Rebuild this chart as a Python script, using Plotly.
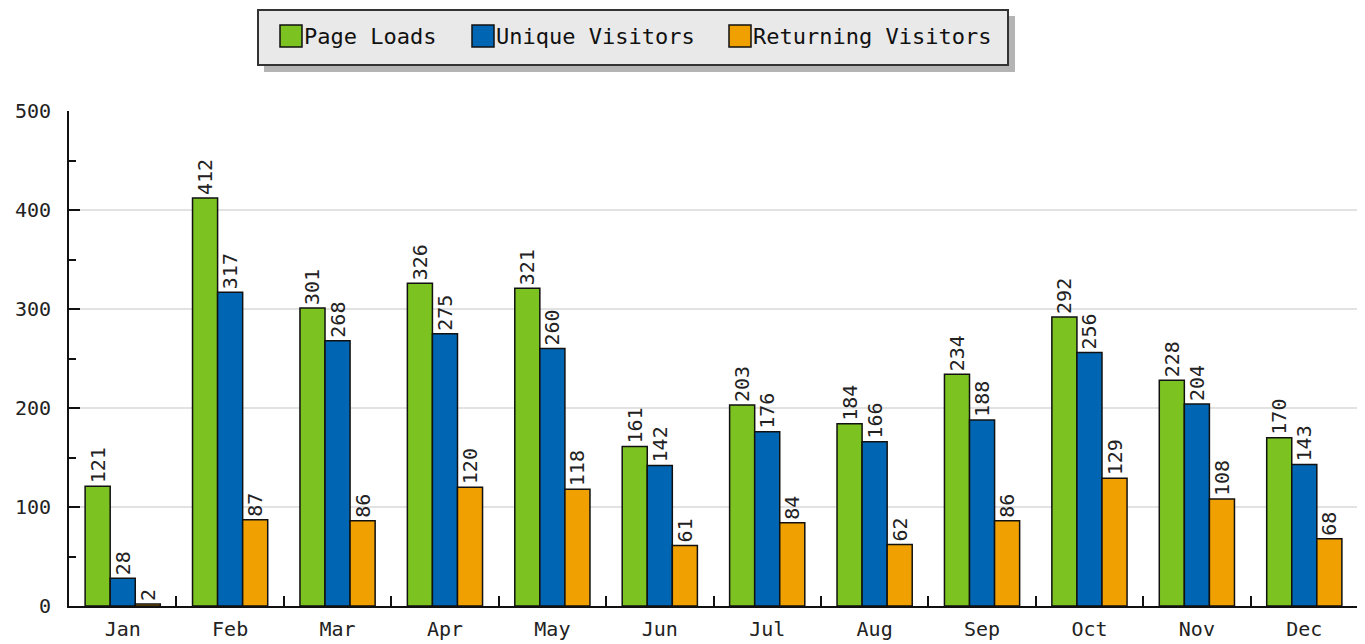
import plotly.graph_objects as go

months = ["Jan", "Feb", "Mar", "Apr", "May", "Jun", "Jul", "Aug", "Sep", "Oct", "Nov", "Dec"]
page_loads = [121, 412, 301, 326, 321, 161, 203, 184, 234, 292, 228, 170]
unique_visitors = [28, 317, 268, 275, 260, 142, 176, 166, 188, 256, 204, 143]
returning_visitors = [2, 87, 86, 120, 118, 61, 84, 62, 86, 129, 108, 68]
series_names = ["Page Loads", "Unique Visitors", "Returning Visitors"]
series_colors = ["#7cc220", "#0066b3", "#f0a000"]
y_ticks = [0, 100, 200, 300, 400, 500]

# page body has an 8px margin; figure is drawn from (8, 8) of the window
OFF = 8
W, H = 1365 - OFF, 644 - OFF
L, R, T, B = 69 - OFF, 7, 111 - OFF, 38
PW, PH = W - L - R, H - T - B

def px_x(x):
    # window pixel x -> paper coordinate
    return (x - OFF - L) / PW

def px_y(y):
    # window pixel y -> paper coordinate
    return (H - B - (y - OFF)) / PH

MONO = "DejaVu Sans Mono"

fig = go.Figure()
for name, vals, col in zip(series_names, [page_loads, unique_visitors, returning_visitors], series_colors):
    fig.add_trace(go.Bar(
        x=months, y=vals, name=name, showlegend=False,
        marker=dict(color=col, line=dict(color="#111111", width=1.5)),
        texttemplate="%{y}", textposition="outside", textangle=-90,
        textfont=dict(family=MONO, size=20, color="#222222"),
        constraintext="none", cliponaxis=False,
    ))

# legend box with shadow
fig.add_shape(type="rect", xref="paper", yref="paper",
              x0=px_x(264), x1=px_x(1015), y0=px_y(72), y1=px_y(16),
              fillcolor="#b4b4b4", line=dict(width=0), layer="below")
fig.add_shape(type="rect", xref="paper", yref="paper",
              x0=px_x(258), x1=px_x(1008), y0=px_y(65), y1=px_y(10),
              fillcolor="#e9e9e9", line=dict(color="#333333", width=2), layer="below")

# legend entries: swatch + label
legend_swatch_x = [280, 472, 729]
for name, col, sx in zip(series_names, series_colors, legend_swatch_x):
    fig.add_shape(type="rect", xref="paper", yref="paper",
                  x0=px_x(sx), x1=px_x(sx + 22), y0=px_y(47), y1=px_y(25),
                  fillcolor=col, line=dict(color="#111111", width=1.5))
    fig.add_annotation(xref="paper", yref="paper", x=px_x(sx + 23), y=px_y(37),
                       xanchor="left", yanchor="middle", text=name, showarrow=False,
                       font=dict(family=MONO, size=22, color="#111111"), borderpad=0)

fig.update_layout(
    width=W, height=H,
    margin=dict(l=L, r=R, t=T, b=B, autoexpand=False),
    paper_bgcolor="white", plot_bgcolor="white",
    barmode="group", bargap=0.30, bargroupgap=0,
    font=dict(family=MONO, size=20, color="#222222"),
    showlegend=False,
    xaxis=dict(
        automargin=False,
        showline=True, linecolor="#111111", linewidth=2,
        ticks="inside", ticklen=10, tickwidth=2, tickcolor="#111111",
        tickson="boundaries", showgrid=False, zeroline=False,
        ticklabelstandoff=4,
        tickfont=dict(family=MONO, size=20, color="#222222"),
    ),
    yaxis=dict(
        automargin=False,
        range=[0, 500], tickvals=y_ticks,
        showline=True, linecolor="#111111", linewidth=2,
        ticks="inside", ticklen=11, tickwidth=2, tickcolor="#111111",
        showgrid=True, gridcolor="#e2e2e2", gridwidth=1.5, zeroline=False,
        ticklabelstandoff=12,
        minor=dict(dtick=50, ticks="inside", ticklen=7, tickwidth=2, tickcolor="#111111", showgrid=False),
        tickfont=dict(family=MONO, size=20, color="#222222"),
    ),
)

fig.write_html("out.html")
